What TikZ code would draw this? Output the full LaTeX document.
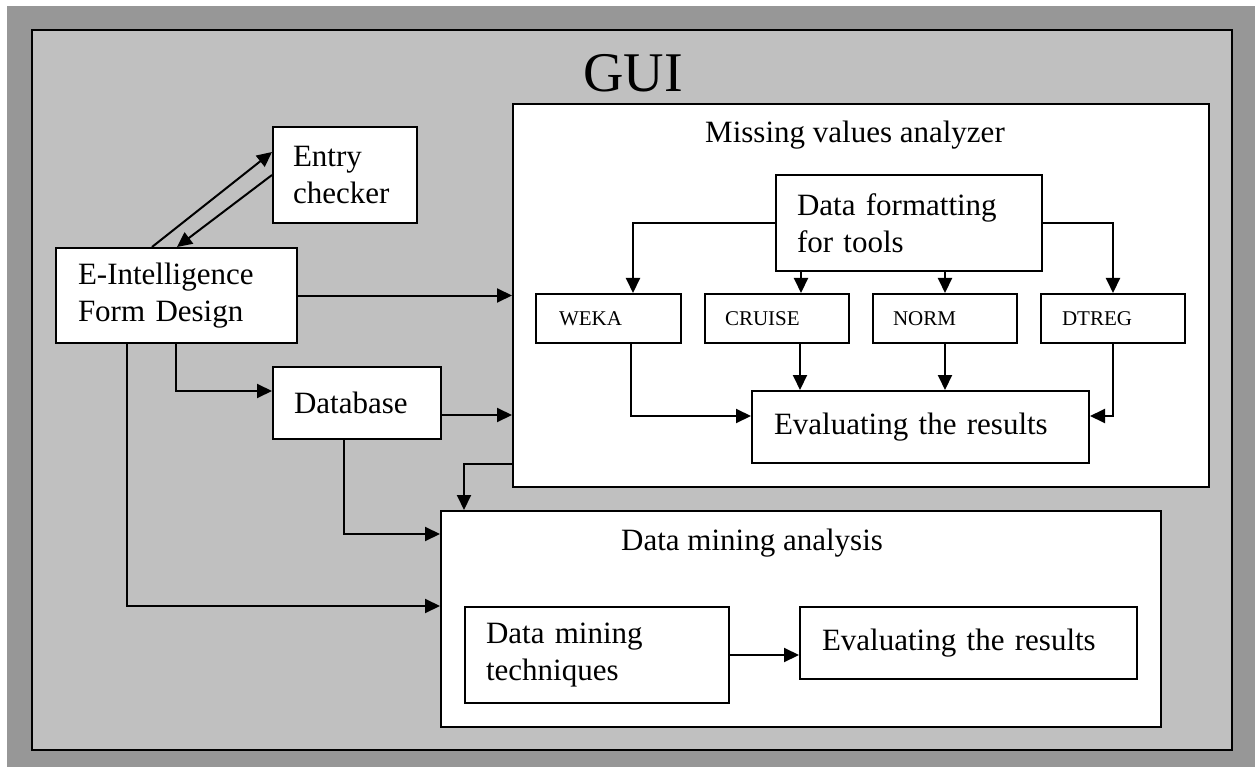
\documentclass[tikz,border=0pt]{standalone}
\usepackage{fontspec}
\setmainfont{Liberation Serif}
\usetikzlibrary{arrows.meta}
\definecolor{bggray}{RGB}{151,151,151}
\definecolor{guigray}{RGB}{192,192,192}
\newcommand\bigtxt{\fontsize{31}{37}\selectfont}
\newcommand\smalltxt{\fontsize{21}{25}\selectfont}
\newcommand\hugetxt{\fontsize{56}{60}\selectfont}
\tikzset{
  bx/.style={draw, line width=2pt, fill=white, anchor=north west, align=left, inner ysep=0pt, font=\bigtxt},
  sbx/.style={bx, font=\smalltxt},
  big/.style={draw, line width=2pt, fill=white, anchor=north west, inner sep=0pt},
  arr/.style={line width=2pt, -{Triangle[length=15pt,width=14pt]}},
}
\begin{document}
\begin{tikzpicture}[x=1pt,y=-1pt]
\useasboundingbox (0,0) rectangle (1255,767);
\fill[bggray] (7,6) rectangle (1255,767);
\draw[line width=2.2pt, fill=guigray] (32,30) rectangle (1232,750);
\node[font=\hugetxt, anchor=base] (gui) at (633,92) {GUI};

% big containers
\node[big, minimum width=696pt, minimum height=383pt] (mva) at (512,103) {};
\node[font=\bigtxt, anchor=base] (mvat) at (855,143) {Missing values analyzer};
\node[big, minimum width=720pt, minimum height=216pt] (dma) at (440,510) {};
\node[font=\bigtxt, anchor=base west, inner xsep=0pt] (dmat) at (621,550) {Data mining analysis};

% left side
\node[bx, minimum height=96pt, text width=104pt, inner xsep=20pt] (entry) at (272,126) {Entry\\checker};
\node[bx, minimum height=95pt, text width=197pt, inner xsep=22pt] (form) at (55,247) {E-Intelligence\\Form Design};
\node[bx, minimum height=72pt, text width=126pt, inner xsep=21pt] (db) at (272,366) {Database};

% inside MVA
\node[bx, minimum height=96pt, text width=224pt, inner xsep=21pt] (df) at (775,174) {Data formatting\\for tools};
\node[sbx, minimum height=49pt, text width=99pt, inner xsep=23pt] (weka) at (535,293) {WEKA};
\node[sbx, minimum height=49pt, text width=104pt, inner xsep=20pt] (cruise) at (704,293) {CRUISE};
\node[sbx, minimum height=49pt, text width=104pt, inner xsep=20pt] (norm) at (872,293) {NORM};
\node[sbx, minimum height=49pt, text width=102pt, inner xsep=21pt] (dtreg) at (1040,293) {DTREG};
\node[bx, minimum height=72pt, text width=293pt, inner xsep=22pt] (ev1) at (751,390) {Evaluating the results};

% inside DMA
\node[bx, minimum height=96pt, text width=222pt, inner xsep=21pt] (dmt) at (464,606) {Data mining\\techniques};
\node[bx, minimum height=72pt, text width=293pt, inner xsep=22pt] (ev2) at (799,606) {Evaluating the results};

% connectors
\draw[arr] ([xshift=97pt]form.north west) -- ([yshift=-26pt]entry.north west);
\draw[arr] ([yshift=-49pt]entry.north west) -- ([xshift=122pt]form.north west);
\draw[arr] (form.east) -- (form.east -| mva.west);
\draw[arr] ([xshift=121pt]form.south west) |- ([yshift=12pt]db.west);
\draw[arr] ([xshift=72pt]form.south west) |- ([yshift=-96pt]dma.north west);
\draw[arr] ([yshift=-12pt]db.east) -- ([yshift=-12pt]db.east -| mva.west);
\draw[arr] ([xshift=72pt]db.south west) |- ([yshift=-24pt]dma.north west);
\draw[arr] ([yshift=24pt]mva.south west) -| ([xshift=24pt]dma.north west);

\draw[arr] (df.west) -| ([xshift=98pt]weka.north west);
\draw[arr] (df.east) -| (dtreg.north);
\draw[arr] ([xshift=26pt]df.south west) -- ([xshift=26pt]df.south west |- cruise.north);
\draw[arr] (norm.north |- df.south) -- (norm.north);

\draw[arr] ([xshift=96pt]weka.south west) |- ([yshift=11pt]ev1.west);
\draw[arr] ([xshift=96pt]cruise.south west) -- ([xshift=96pt]cruise.south west |- ev1.north);
\draw[arr] (norm.south) -- (norm.south |- ev1.north);
\draw[arr] (dtreg.south) |- ([yshift=11pt]ev1.east);

\draw[arr] (dmt.east) -- (dmt.east -| ev2.west);
\end{tikzpicture}
\end{document}
